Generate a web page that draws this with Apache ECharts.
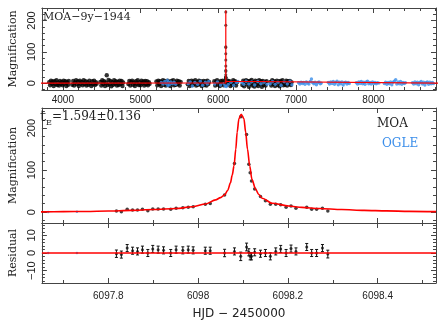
<!DOCTYPE html>
<html>
<head>
<meta charset="utf-8">
<script src="https://cdn.jsdelivr.net/npm/echarts@6/dist/echarts.min.js"></script>
<style>
  html, body { margin: 0; background: #fff; }
  #chart { width: 447px; height: 329px; }
</style>
</head>
<body>
<div id="chart"></div>
<script>
// ---- long-term light curve (top panel), [HJD-2450000, magnification] ----
const moaLong = [
  [3824,3],[3836,-7],[3847,8],[3859,-2],[3870,5],[3882,-9],[3893,6],[3905,-4],[3917,9],[3928,-6],[3940,2],[3951,-8],[3963,7],[3975,-3],[3986,4],[3998,-7],[4010,8],[4021,-1],[4033,6],[4045,-9],[4056,3],[4068,-5],[4076,7],
  [4121,-5],[4133,7],[4145,-8],[4157,2],[4170,9],[4182,-4],[4194,5],[4206,-9],[4219,8],[4231,-2],[4243,4],[4255,-7],[4268,9],[4280,-3],[4292,6],[4304,-8],[4317,3],[4329,-5],[4341,8],[4353,-1],[4366,-9],[4378,6],[4390,-4],[4402,8],[4414,-6],[4426,3],[4435,-2],
  [4483,4],[4495,-8],[4507,9],[4519,-3],[4531,6],[4543,-9],[4555,2],[4565,25],[4576,-6],[4588,10],[4600,-4],[4612,7],[4624,-10],[4636,3],[4648,-5],[4660,9],[4672,-2],[4684,6],[4696,-8],[4708,4],[4720,-6],[4732,8],[4744,-3],[4756,7],[4768,-9],[4776,2],
  [4844,-3],[4856,7],[4868,-8],[4880,4],[4892,8],[4904,-5],[4916,2],[4928,-9],[4940,6],[4952,-2],[4964,9],[4976,-6],[4988,3],[5000,-7],[5012,8],[5024,-1],[5036,5],[5048,-8],[5060,7],[5072,-4],[5084,6],[5096,-7],[5108,3],[5117,-2],
  [5205,5],[5217,-7],[5229,8],[5241,-3],[5253,6],[5265,-9],[5277,3],[5289,9],[5301,-5],[5313,7],[5325,-8],[5337,2],[5349,8],[5361,-6],[5373,4],[5385,-9],[5397,7],[5409,-2],[5421,9],[5433,-7],[5445,3],[5457,-5],[5469,8],[5481,-3],[5493,6],[5505,-8],[5517,4],
  [5609,-4],[5621,7],[5633,-9],[5645,3],[5657,8],[5669,-6],[5681,5],[5693,-2],[5705,9],[5717,-8],[5729,4],[5741,-5],[5753,8],[5765,-3],[5777,6],[5789,-9],[5801,2],[5813,7],[5825,-6],[5837,5],[5849,-8],[5861,8],[5873,-3],[5882,4],
  [5950,6],[5962,-8],[5974,4],[5986,9],[5998,-5],[6010,2],[6022,-9],[6034,7],[6046,-3],[6058,8],[6070,-7],[6082,5],[6110,-6],[6122,8],[6134,-2],[6146,6],[6158,-9],[6170,4],[6182,-5],[6194,9],[6206,-3],[6218,6],[6230,-8],[6242,3],
  [6311,-6],[6323,8],[6335,-10],[6347,4],[6359,9],[6371,-4],[6383,6],[6395,-12],[6407,7],[6419,-2],[6431,10],[6443,-8],[6455,3],[6467,-11],[6479,8],[6491,-5],[6503,5],[6515,-9],[6527,9],[6539,-3],[6551,6],[6563,-12],[6575,7],[6587,-6],[6599,4],[6611,-8],[6623,6],
  [6672,4],[6684,-8],[6696,9],[6708,-3],[6720,6],[6732,-9],[6744,2],[6756,8],[6768,-6],[6780,5],[6792,-10],[6804,7],[6816,-2],[6828,9],[6840,-7],[6852,3],[6864,-5],[6876,8],[6888,-8],[6900,6],[6912,-3],[6924,7],[6936,-6],[6944,3]
];
const ogleLong = [
  [5268,2],[5290,-3],[5312,5],[5330,-1],[5345,9],[5352,-8],[5360,3],[5372,-5],[5390,4],[5410,-2],[5432,3],[5452,-4],
  [5615,-2],[5640,4],[5668,-9],[5700,2],[5735,-4],[5770,6],[5800,-7],[5835,3],[5860,-3],[5878,5],
  [5955,-3],[5990,4],[6030,-6],[6075,-2],[6090,-9],[6105,-11],[6130,-4],[6165,3],[6200,-7],[6235,2],[6255,5],
  [6305,2],[6330,-4],[6360,6],[6395,-3],[6430,4],[6470,-6],[6510,5],[6550,-2],[6590,3],[6630,-4],
  [6670,-2],[6700,5],[6735,-4],[6770,3],[6810,-7],[6850,4],[6890,-3],[6925,6],[6950,-5],
  [7035,1],[7052,-3],[7068,3],[7085,-1],[7100,2],[7118,-4],[7135,4],[7152,0],[7168,-3],[7185,5],[7201,13],[7215,2],[7232,-2],[7248,3],[7265,-5],[7282,1],[7298,4],[7315,-2],[7328,0],
  [7418,2],[7434,-3],[7450,4],[7466,-1],[7482,5],[7498,-4],[7514,2],[7530,6],[7546,-5],[7562,3],[7578,-2],[7594,4],[7610,-6],[7626,1],[7642,3],[7658,-3],[7674,2],[7688,-1],
  [7779,1],[7795,-3],[7811,4],[7827,-1],[7843,5],[7859,-2],[7875,3],[7891,-4],[7907,4],[7923,6],[7939,-2],[7955,2],[7971,-3],[7987,4],[8003,-1],[8019,2],[8035,-2],[8051,1],[8070,0],
  [8140,-1],[8156,3],[8172,-4],[8188,2],[8204,-2],[8220,4],[8236,-5],[8252,3],[8268,6],[8286,11],[8300,-3],[8316,4],[8332,-2],[8348,5],[8364,-4],[8380,2],[8396,-1],[8411,1],
  [8502,1],[8518,-3],[8534,4],[8550,-2],[8566,3],[8582,-5],[8598,2],[8614,5],[8630,-3],[8646,3],[8662,-6],[8678,2],[8694,4],[8710,-4],[8726,3],[8742,-2],[8758,2],[8772,-1]
];

// ---- event (middle + residual panels) ----
const eventT = [6097.818, 6097.829, 6097.842, 6097.854, 6097.865, 6097.876, 6097.888, 6097.899, 6097.911, 6097.923,
                6097.939, 6097.951, 6097.966, 6097.978, 6097.989, 6098.016, 6098.027, 6098.059, 6098.081, 6098.095,
                6098.108, 6098.113, 6098.116, 6098.119, 6098.126, 6098.139, 6098.150, 6098.161, 6098.173, 6098.184,
                6098.196, 6098.207, 6098.218, 6098.242, 6098.253, 6098.264, 6098.277, 6098.289];
const eventM = [2.4, 0.8, 6.5, 4.8, 4.8, 6.5, 3.2, 7.3, 7.3, 7.3,
                6.5, 8.9, 10.5, 11.3, 12.9, 18.6, 20.2, 41, 116, 227,
                185, 114, 94, 74, 55, 37, 27, 18.6, 18.6, 17.2,
                11.3, 14.5, 8.9, 11.3, 6.5, 6.5, 8.9, 2.4];
const eventRes = [-0.4, -0.9, 2.8, 1.3, 0.9, 1.9, 0, 2.3, 1.9, 1.5,
                  0, 1.9, 1.5, 1.9, 1.5, 1.3, 1.3, 0, 0.9, -1.9,
                  3.4, 0.4, -1.9, -1.9, 0.4, -0.4, 0, -1.9, 0.9, 2.3,
                  0, 2.5, 0.9, 3.4, 0, 0, 2.8, -0.6];
const eventErr = [2.1, 2.0, 2.0, 2.0, 2.0, 2.0, 2.0, 2.0, 2.0, 2.0,
                  2.0, 2.0, 2.0, 2.0, 2.0, 2.0, 2.0, 2.1, 2.0, 2.4,
                  2.2, 2.0, 2.0, 2.0, 2.0, 2.0, 2.0, 2.0, 2.0, 2.0,
                  2.0, 2.0, 2.0, 2.0, 2.0, 2.0, 2.0, 2.2];
const ogleEvT = [6097.666, 6097.730];
const ogleEvM = [0.5, 1];
const ogleEvRes = [0, 0];

// ---- model curve ----
const modelT = [6097.65, 6097.70, 6097.75, 6097.80, 6097.85, 6097.90, 6097.95, 6097.988, 6098.017, 6098.039,
                6098.050, 6098.059, 6098.066, 6098.072, 6098.076, 6098.080, 6098.084, 6098.087, 6098.091, 6098.096,
                6098.102, 6098.106, 6098.110, 6098.115, 6098.120, 6098.128, 6098.135, 6098.143, 6098.165, 6098.202,
                6098.231, 6098.27, 6098.32, 6098.37, 6098.42, 6098.47, 6098.53];
const modelM = [0.5, 1, 1.5, 2.5, 4, 6, 8.5, 12.8, 19.4, 29,
                34.5, 41, 52, 69.5, 88, 110, 150, 190, 223, 233,
                223, 190, 150, 110, 77.5, 55, 42, 33, 21, 14.5,
                11.3, 8.5, 6, 4, 2.8, 1.8, 1];
const baseT = [3700, 8900];   // flat model outside the event
const baseM = [0, 0];

// ---- ticks ----
const longMajor = [4000, 5000, 6000, 7000, 8000];
const longMinor = [3800, 4200, 4400, 4600, 4800, 5200, 5400, 5600, 5800, 6200, 6400, 6600, 6800, 7200, 7400, 7600, 7800, 8200, 8400, 8600, 8800];
const evMajor = [6097.8, 6098, 6098.2, 6098.4];
const evMinor = [6097.7, 6097.9, 6098.1, 6098.3, 6098.5];
const magMajor = [0, 100, 200];
const magMinor = [-20, 20, 40, 60, 80, 120, 140, 160, 180, 220, 240];
const resMajor = [-10, 0, 10];
const resMinor = [-16, -14, -12, -8, -6, -4, -2, 2, 4, 6, 8, 12, 14, 16];

const AX = '#444';
const TXT = '#222';
const BLUE = '#3b8eea';
const RED = '#ff0000';
const pairs = (a, b) => a.map((v, i) => [v, b[i]]);
const minus = v => (v < 0 ? '\u2212' + (-v) : String(v));

// four x axes per grid: bottom major/minor, top major/minor
function xSet(grid, min, max, major, minor, label, name) {
  const base = { type: 'value', gridIndex: grid, min, max, splitLine: { show: false } };
  const tick = (vals, len) => ({ show: true, inside: true, length: len, customValues: vals, lineStyle: { color: AX, width: 1 } });
  const line = { show: true, onZero: false, lineStyle: { color: AX, width: 1 } };
  const first = Object.assign({}, base, {
    position: 'bottom', axisLine: line, axisTick: tick(major, 5),
    axisLabel: label ? Object.assign({ show: true, customValues: major, formatter: v => String(v),
      fontFamily: 'Liberation Sans', fontSize: 10, color: TXT }, label) : { show: false }
  });
  if (name) Object.assign(first, name);
  return [
    first,
    Object.assign({}, base, { position: 'bottom', axisLine: { show: false, onZero: false }, axisTick: tick(minor, 3), axisLabel: { show: false } }),
    Object.assign({}, base, { position: 'top', axisLine: line, axisTick: tick(major, 5), axisLabel: { show: false } }),
    Object.assign({}, base, { position: 'top', axisLine: { show: false, onZero: false }, axisTick: tick(minor, 3), axisLabel: { show: false } })
  ];
}
function ySet(grid, min, max, major, minor, name) {
  const base = { type: 'value', gridIndex: grid, min, max, splitLine: { show: false } };
  const tick = (vals, len) => ({ show: true, inside: true, length: len, customValues: vals, lineStyle: { color: AX, width: 1 } });
  const line = { show: true, onZero: false, lineStyle: { color: AX, width: 1 } };
  return [
    Object.assign({}, base, {
      position: 'left', axisLine: line, axisTick: tick(major, 5),
      axisLabel: { show: true, customValues: major, rotate: 90, margin: 4, formatter: minus,
        fontFamily: 'Liberation Sans', fontSize: 11, color: TXT },
      name: name, nameLocation: 'middle', nameGap: 22,
      nameTextStyle: { fontFamily: 'DejaVu Serif', fontSize: 11, color: TXT }
    }),
    Object.assign({}, base, { position: 'left', axisLine: { show: false, onZero: false }, axisTick: tick(minor, 3), axisLabel: { show: false } }),
    Object.assign({}, base, { position: 'right', axisLine: line, axisTick: tick(major, 5), axisLabel: { show: false } }),
    Object.assign({}, base, { position: 'right', axisLine: { show: false, onZero: false }, axisTick: tick(minor, 3), axisLabel: { show: false } })
  ];
}

const errBars = {
  type: 'custom', xAxisIndex: 8, yAxisIndex: 8, z: 3,
  data: eventT.map((t, i) => [t, eventRes[i], eventErr[i]]),
  encode: { x: 0, y: 1 },
  renderItem: (params, api) => {
    const x = api.value(0), y = api.value(1), e = api.value(2);
    const lo = api.coord([x, y - e]), hi = api.coord([x, y + e]);
    const st = { stroke: '#111', lineWidth: 1 };
    return { type: 'group', children: [
      { type: 'line', shape: { x1: lo[0], y1: lo[1], x2: hi[0], y2: hi[1] }, style: st },
      { type: 'line', shape: { x1: lo[0] - 1.5, y1: lo[1], x2: lo[0] + 1.5, y2: lo[1] }, style: st },
      { type: 'line', shape: { x1: hi[0] - 1.5, y1: hi[1], x2: hi[0] + 1.5, y2: hi[1] }, style: st }
    ] };
  }
};

const chart = echarts.init(document.getElementById('chart'), null, { renderer: 'canvas' });
chart.setOption({
  animation: false,
  backgroundColor: '#fff',
  grid: [
    { left: 38, right: 11, top: 8, height: 82 },
    { left: 38, right: 11, top: 108, height: 115 },
    { left: 38, right: 11, top: 223, height: 60 }
  ],
  xAxis: [].concat(
    xSet(0, 3730, 8805, longMajor, longMinor, { margin: 5 }),
    xSet(1, 6097.652, 6098.53, evMajor, evMinor, null),
    xSet(2, 6097.652, 6098.53, evMajor, evMinor, { margin: 8 }, {
      name: 'HJD \u2212 2450000', nameLocation: 'middle', nameGap: 25,
      nameTextStyle: { fontFamily: 'DejaVu Sans', fontSize: 12, color: TXT }
    })
  ),
  yAxis: [].concat(
    ySet(0, -22, 240, magMajor, magMinor, 'Magnification'),
    ySet(1, -26, 248, magMajor, magMinor, 'Magnification'),
    ySet(2, -17, 17, resMajor, resMinor, 'Residual')
  ),
  series: [
    // top panel
    { type: 'scatter', xAxisIndex: 0, yAxisIndex: 0, data: moaLong, symbolSize: 4.4, itemStyle: { color: '#000' } },
    { type: 'scatter', xAxisIndex: 0, yAxisIndex: 0, data: ogleLong, symbolSize: 3.4, itemStyle: { color: BLUE } },
    { type: 'line', xAxisIndex: 0, yAxisIndex: 0, showSymbol: false, lineStyle: { color: RED, width: 1.2 },
      data: [pairs(baseT, baseM)[0]].concat(pairs(modelT, modelM), [pairs(baseT, baseM)[1]]) },
    { type: 'scatter', xAxisIndex: 0, yAxisIndex: 0, data: pairs(eventT, eventM), symbolSize: 3, itemStyle: { color: '#222' } },
    // middle panel
    { type: 'line', xAxisIndex: 4, yAxisIndex: 4, showSymbol: false, smooth: 0.3, smoothMonotone: 'x',
      lineStyle: { color: RED, width: 1.6 }, data: pairs(modelT, modelM) },
    { type: 'scatter', xAxisIndex: 4, yAxisIndex: 4, data: pairs(ogleEvT, ogleEvM), symbolSize: 2.5, itemStyle: { color: BLUE } },
    { type: 'scatter', xAxisIndex: 4, yAxisIndex: 4, data: pairs(eventT, eventM), symbolSize: 3.5, itemStyle: { color: '#111' } },
    // residual panel
    { type: 'scatter', xAxisIndex: 8, yAxisIndex: 8, data: pairs(ogleEvT, ogleEvRes), symbolSize: 2.5, itemStyle: { color: BLUE },
      markLine: { silent: true, symbol: 'none', label: { show: false }, lineStyle: { color: RED, width: 1.6, type: 'solid' },
        data: [{ yAxis: 0 }] } },
    errBars,
    { type: 'scatter', xAxisIndex: 8, yAxisIndex: 8, z: 4, data: pairs(eventT, eventRes), symbolSize: 3, itemStyle: { color: '#111' } }
  ],
  graphic: [
    { type: 'text', left: 43, top: 12, z: 10, style: { text: 'MOA\u22129y\u22121944', font: '11px "DejaVu Serif"', fill: TXT } },
    { type: 'text', x: 40, y: 110, z: 100, style: { text: 't', font: '15px "DejaVu Serif"', fill: TXT } },
    { type: 'text', x: 46, y: 119, z: 100, style: { text: 'E', font: '8px "DejaVu Serif"', fill: TXT } },
    { type: 'text', x: 52, y: 111, z: 100, style: { text: '=1.594\u00b10.136', font: '12px "DejaVu Serif"', fill: TXT } },
    { type: 'text', left: 377, top: 118, z: 10, style: { text: 'MOA', font: '12px "DejaVu Serif"', fill: TXT } },
    { type: 'text', left: 382, top: 138, z: 10, style: { text: 'OGLE', font: '12px "DejaVu Serif"', fill: BLUE } }
  ]
});
</script>
</body>
</html>
